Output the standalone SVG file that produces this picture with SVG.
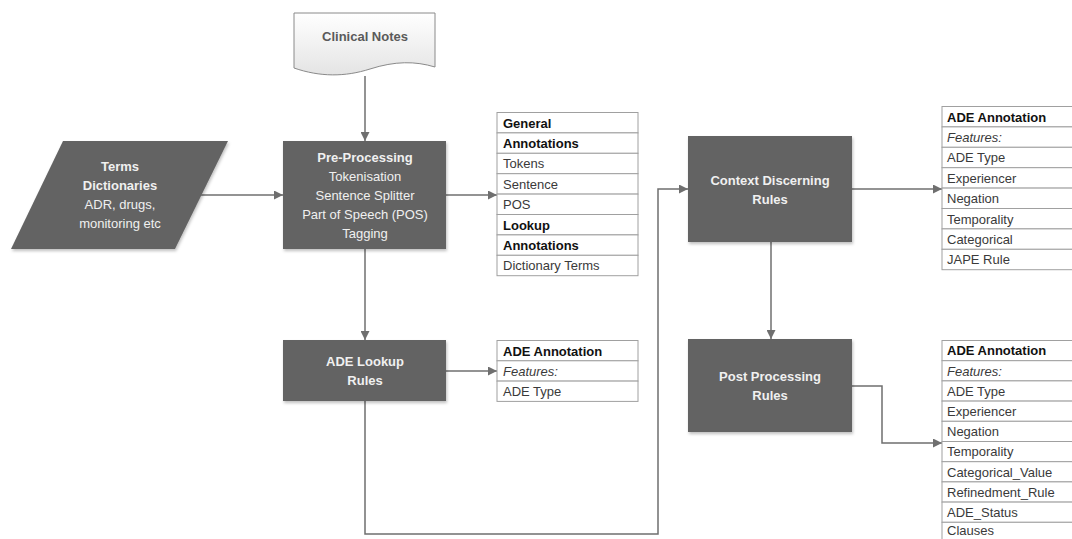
<svg xmlns="http://www.w3.org/2000/svg" width="1072" height="539" viewBox="0 0 1072 539">
<style>
.box{fill:#646464;}
.nt{font-family:"Liberation Sans",Arial,sans-serif;font-size:13px;fill:#f0f0f0;text-anchor:middle;}
.b{font-weight:bold;}
.cell{fill:#ffffff;stroke:#a0a0a0;stroke-width:1;}
.tt{font-family:"Liberation Sans",Arial,sans-serif;font-size:13px;fill:#3a3a3a;}
.tb{font-weight:bold;fill:#111111;}
.ti{font-style:italic;}
.conn{fill:none;stroke:#6f6f6f;stroke-width:1.5;}
</style>
<defs>
<marker id="ah" viewBox="0 0 10 10" refX="10" refY="5" markerWidth="10" markerHeight="9" markerUnits="userSpaceOnUse" orient="auto">
<path d="M0,0 L10,5 L0,10 Z" fill="#6f6f6f"/>
</marker>
<linearGradient id="doc" x1="0" y1="0" x2="0" y2="1">
<stop offset="0" stop-color="#ffffff"/>
<stop offset="1" stop-color="#e4e4e4"/>
</linearGradient>
<filter id="sh" x="-10%" y="-10%" width="130%" height="130%">
<feDropShadow dx="1" dy="2" stdDeviation="1.5" flood-color="#000" flood-opacity="0.25"/>
</filter>
</defs>

<g id="connectors">
<path class="conn" d="M365,76 V141" marker-end="url(#ah)"/>
<path class="conn" d="M200,195 H283" marker-end="url(#ah)"/>
<path class="conn" d="M446,195 H497" marker-end="url(#ah)"/>
<path class="conn" d="M365,249 V340" marker-end="url(#ah)"/>
<path class="conn" d="M446,371 H497" marker-end="url(#ah)"/>
<path class="conn" d="M365,401 V534 H658 V189 H688" marker-end="url(#ah)"/>
<path class="conn" d="M852,189 H942" marker-end="url(#ah)"/>
<path class="conn" d="M771,242 V339" marker-end="url(#ah)"/>
<path class="conn" d="M852,386 H882 V443 H942" marker-end="url(#ah)"/>
</g>

<g id="clinical-notes">
<path d="M294,13 H435 V67 C415,61 395,61 370,69 C345,77 320,77 294,68 Z" fill="url(#doc)" stroke="#8a8a8a" stroke-width="1"/>
<text class="nt b" x="365" y="41" style="fill:#5a5a5a">Clinical Notes</text>
</g>

<g id="terms-dictionaries">
<path class="box" filter="url(#sh)" d="M63,141 H228 L175,249 H11 Z"/>
<text class="nt b" x="120" y="171">Terms</text>
<text class="nt b" x="120" y="190">Dictionaries</text>
<text class="nt" x="120" y="209">ADR, drugs,</text>
<text class="nt" x="120" y="228">monitoring etc</text>
</g>

<g id="pre-processing">
<rect class="box" filter="url(#sh)" x="283" y="141" width="163" height="108"/>
<text class="nt b" x="365" y="162">Pre-Processing</text>
<text class="nt" x="365" y="181">Tokenisation</text>
<text class="nt" x="365" y="200">Sentence Splitter</text>
<text class="nt" x="365" y="219">Part of Speech (POS)</text>
<text class="nt" x="365" y="238">Tagging</text>
</g>

<g id="general-annotations">
<rect class="cell" x="497" y="112.5" width="141" height="20.4"/>
<rect class="cell" x="497" y="132.9" width="141" height="20.4"/>
<rect class="cell" x="497" y="153.3" width="141" height="20.4"/>
<rect class="cell" x="497" y="173.7" width="141" height="20.4"/>
<rect class="cell" x="497" y="194.1" width="141" height="20.4"/>
<rect class="cell" x="497" y="214.5" width="141" height="20.4"/>
<rect class="cell" x="497" y="234.9" width="141" height="20.4"/>
<rect class="cell" x="497" y="255.3" width="141" height="20.4"/>
<text class="tt tb" x="503" y="127.5">General</text>
<text class="tt tb" x="503" y="147.9">Annotations</text>
<text class="tt" x="503" y="168.3">Tokens</text>
<text class="tt" x="503" y="188.7">Sentence</text>
<text class="tt" x="503" y="209.1">POS</text>
<text class="tt tb" x="503" y="229.5">Lookup</text>
<text class="tt tb" x="503" y="249.9">Annotations</text>
<text class="tt" x="503" y="270.3">Dictionary Terms</text>
</g>

<g id="ade-lookup-rules">
<rect class="box" filter="url(#sh)" x="283" y="340" width="163" height="61"/>
<text class="nt b" x="365" y="366">ADE Lookup</text>
<text class="nt b" x="365" y="385">Rules</text>
</g>

<g id="ade-annotation-lookup">
<rect class="cell" x="497" y="340.5" width="141" height="20.3"/>
<rect class="cell" x="497" y="360.8" width="141" height="20.3"/>
<rect class="cell" x="497" y="381.1" width="141" height="20.3"/>
<text class="tt tb" x="503" y="355.5">ADE Annotation</text>
<text class="tt ti" x="503" y="375.8">Features:</text>
<text class="tt" x="503" y="396.1">ADE Type</text>
</g>

<g id="context-discerning-rules">
<rect class="box" filter="url(#sh)" x="688" y="136" width="164" height="106"/>
<text class="nt b" x="770" y="185">Context Discerning</text>
<text class="nt b" x="770" y="204">Rules</text>
</g>

<g id="post-processing-rules">
<rect class="box" filter="url(#sh)" x="688" y="339" width="164" height="93"/>
<text class="nt b" x="770" y="381">Post Processing</text>
<text class="nt b" x="770" y="400">Rules</text>
</g>

<g id="ade-annotation-context">
<rect class="cell" x="942" y="106.5" width="140" height="20.4"/>
<rect class="cell" x="942" y="126.9" width="140" height="20.4"/>
<rect class="cell" x="942" y="147.3" width="140" height="20.4"/>
<rect class="cell" x="942" y="167.7" width="140" height="20.4"/>
<rect class="cell" x="942" y="188.1" width="140" height="20.4"/>
<rect class="cell" x="942" y="208.5" width="140" height="20.4"/>
<rect class="cell" x="942" y="228.9" width="140" height="20.4"/>
<rect class="cell" x="942" y="249.3" width="140" height="20.4"/>
<text class="tt tb" x="947" y="121.5">ADE Annotation</text>
<text class="tt ti" x="947" y="141.9">Features:</text>
<text class="tt" x="947" y="162.3">ADE Type</text>
<text class="tt" x="947" y="182.7">Experiencer</text>
<text class="tt" x="947" y="203.1">Negation</text>
<text class="tt" x="947" y="223.5">Temporality</text>
<text class="tt" x="947" y="243.9">Categorical</text>
<text class="tt" x="947" y="264.3">JAPE Rule</text>
</g>

<g id="ade-annotation-post">
<rect class="cell" x="942" y="340.5" width="140" height="20.2"/>
<rect class="cell" x="942" y="360.7" width="140" height="20.2"/>
<rect class="cell" x="942" y="380.9" width="140" height="20.2"/>
<rect class="cell" x="942" y="401.1" width="140" height="20.2"/>
<rect class="cell" x="942" y="421.3" width="140" height="20.2"/>
<rect class="cell" x="942" y="441.5" width="140" height="20.2"/>
<rect class="cell" x="942" y="461.7" width="140" height="20.2"/>
<rect class="cell" x="942" y="481.9" width="140" height="20.2"/>
<rect class="cell" x="942" y="502.1" width="140" height="20.2"/>
<rect class="cell" x="942" y="522.3" width="140" height="20.2"/>
<text class="tt tb" x="947" y="355.3">ADE Annotation</text>
<text class="tt ti" x="947" y="375.5">Features:</text>
<text class="tt" x="947" y="395.7">ADE Type</text>
<text class="tt" x="947" y="415.9">Experiencer</text>
<text class="tt" x="947" y="436.1">Negation</text>
<text class="tt" x="947" y="456.3">Temporality</text>
<text class="tt" x="947" y="476.5">Categorical_Value</text>
<text class="tt" x="947" y="496.7">Refinedment_Rule</text>
<text class="tt" x="947" y="516.9">ADE_Status</text>
<text class="tt" x="947" y="535">Clauses</text>
</g>
</svg>
